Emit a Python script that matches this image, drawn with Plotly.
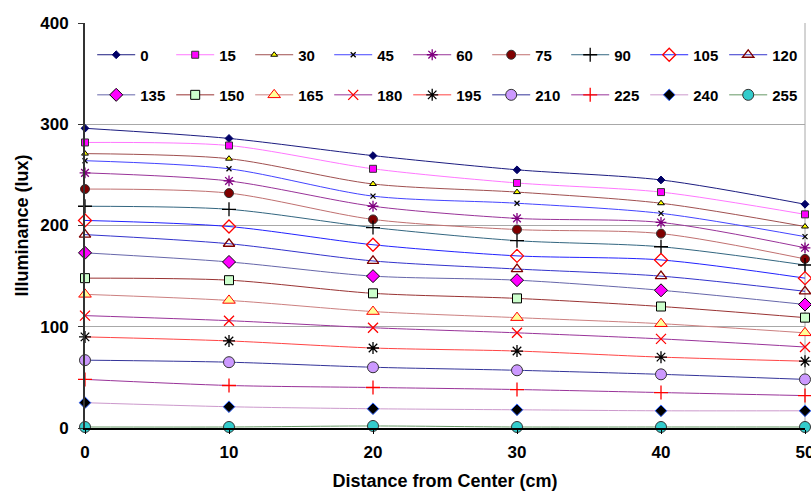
import plotly.graph_objects as go

# --- DATA ---
distance = [0, 10, 20, 30, 40, 50]
series_names = ["0", "15", "30", "45", "60", "75", "90", "105", "120",
                "135", "150", "165", "180", "195", "210", "225", "240", "255"]

lux_0 = [296, 286, 269, 255, 245, 221]
lux_15 = [282, 279, 256, 242, 233, 211]
lux_30 = [271, 266, 241, 233, 222, 199]
lux_45 = [264, 256, 229, 222, 212, 189]
lux_60 = [252, 244, 219, 207, 203, 178]
lux_75 = [236, 232, 206, 196, 192, 167]
lux_90 = [219, 216, 198, 185, 179, 161]
lux_105 = [205, 199, 181, 170, 166, 148]
lux_120 = [191, 182, 165, 157, 150, 135]
lux_135 = [173, 164, 150, 146, 136, 122]
lux_150 = [148, 146, 133, 128, 120, 109]
lux_165 = [132, 126, 115, 109, 103, 94]
lux_180 = [111, 106, 99, 94, 88, 80]
lux_195 = [90, 86, 79, 76, 70, 66]
lux_210 = [67, 65, 60, 57, 53, 48]
lux_225 = [48, 42, 40, 38, 35, 32]
lux_240 = [25, 21, 19, 18, 17, 17]
lux_255 = [1, 1, 2, 1, 1, 1]

all_lux = [lux_0, lux_15, lux_30, lux_45, lux_60, lux_75, lux_90, lux_105, lux_120,
           lux_135, lux_150, lux_165, lux_180, lux_195, lux_210, lux_225, lux_240, lux_255]

# --- STYLES: line colour, marker symbol, size, fill, edge colour ---
STYLES = {
    "0":   ("#1c1c80", "diamond", 6, "#000066", "#000066"),
    "15":  ("#ff77ff", "square", 7, "#ff00ff", "#333333"),
    "30":  ("#a05050", "triangle-up", 6, "#ffff00", "#000000"),
    "45":  ("#4444ff", "x-thin-open", 5, "#000000", "#000000"),
    "60":  ("#993399", "asterisk-open", 9, "#800080", "#800080"),
    "75":  ("#c07070", "circle", 9, "#800000", "#333333"),
    "90":  ("#336680", "cross-thin-open", 10, "#000000", "#000000"),
    "105": ("#2222ff", "diamond-open", 10, "#ff0000", "#ff0000"),
    "120": ("#3333cc", "triangle-up-open", 10, "#800000", "#800000"),
    "135": ("#6666aa", "diamond", 10, "#ff00ff", "#000000"),
    "150": ("#993333", "square", 9, "#ccffcc", "#000000"),
    "165": ("#cc8080", "triangle-up", 11, "#ffff99", "#ff0000"),
    "180": ("#993399", "x-thin-open", 10, "#ff0000", "#ff0000"),
    "195": ("#ff4444", "asterisk-open", 10, "#000000", "#000000"),
    "210": ("#333399", "circle", 11, "#cc99ff", "#333333"),
    "225": ("#993399", "cross-thin-open", 10, "#ff0000", "#ff0000"),
    "240": ("#cc99cc", "diamond", 9, "#000000", "#3366ff"),
    "255": ("#669966", "circle", 11, "#33cccc", "#333333"),
}

FONT = "Liberation Sans, Arial, sans-serif"

fig = go.Figure()
for i, (name, ys) in enumerate(zip(series_names, all_lux)):
    lc, sym, size, fill, edge = STYLES[name]
    open_sym = sym.endswith("-open")
    fig.add_trace(go.Scatter(
        x=distance, y=ys, name=name, mode="lines+markers",
        line=dict(color=lc, width=1, shape="spline", smoothing=0.8),
        marker=dict(symbol=sym, size=size,
                    color=edge if open_sym else fill,
                    line=dict(color=edge, width=1.3 if open_sym else 1)),
        legend="legend" if i < 9 else "legend2",
        cliponaxis=False,
    ))

leg_common = dict(orientation="h", entrywidth=26, itemwidth=38,
                  xanchor="left", yanchor="middle",
                  bgcolor="rgba(0,0,0,0)", font=dict(family=FONT, size=15, color="black",
                                                     weight="bold"),
                  itemclick=False)

# gray frame line on the right side of the plot area
fig.add_shape(type="line", xref="paper", yref="paper", x0=1, x1=1, y0=0, y1=1,
              line=dict(color="#a8a8a8", width=1), layer="below")

fig.update_layout(
    width=811, height=491,
    margin=dict(l=85, r=6, t=23, b=63),
    paper_bgcolor="white", plot_bgcolor="white",
    font=dict(family=FONT, size=16, color="black"),
    legend=dict(x=0.01, y=0.921, **leg_common),
    legend2=dict(x=0.01, y=0.822, **leg_common),
    xaxis=dict(range=[0, 50], tickvals=distance, showgrid=False, automargin=False,
               showline=True, linecolor="black", linewidth=1.5,
               ticks="outside", ticklen=4, tickcolor="black",
               ticklabeloverflow="allow", ticklabelstandoff=4,
               tickfont=dict(size=17, weight="bold"),
               title=dict(text="Distance from Center (cm)", font=dict(size=18, weight="bold"),
                          standoff=16),
               zeroline=False),
    yaxis=dict(range=[0, 400], tickvals=[0, 100, 200, 300, 400], automargin=False,
               showgrid=True, gridcolor="#a8a8a8", gridwidth=1,
               showline=True, linecolor="#333333", linewidth=2,
               ticks="outside", ticklen=5, tickcolor="#333333",
               ticklabeloverflow="allow", ticklabelstandoff=6,
               tickfont=dict(size=17, weight="bold"),
               title=dict(text="Illuminance (lux)", font=dict(size=18, weight="bold"),
                          standoff=7),
               zeroline=False),
)

# page body has an 8px default margin; drop it so the chart sits at the window corner
fig.write_html("out.html", config={"displayModeBar": False},
               post_script="document.body.style.margin='0px';")
